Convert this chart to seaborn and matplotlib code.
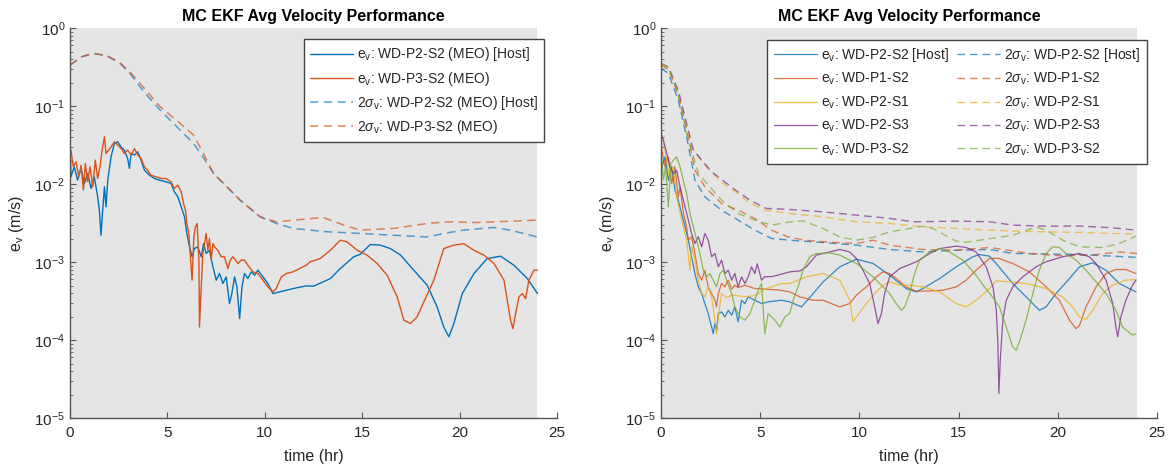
import numpy as np
import matplotlib
matplotlib.use("Agg")
import matplotlib.pyplot as plt
import seaborn as sns

# ---------------------------------------------------------------- data
# (time [hr], velocity error [m/s]) samples

# MEO pair: WD-P2-S2 (host) and WD-P3-S2
EV_P2S2_MEO = [
    (0.00, 0.0301), (0.05, 0.0124), (0.22, 0.0167), (0.39, 0.01125), (0.57, 0.0159),
    (0.74, 0.0102), (0.91, 0.0137), (1.08, 0.0088), (1.25, 0.0124), (1.42, 0.00688),
    (1.51, 0.00464), (1.59, 0.00221), (1.68, 0.00464), (1.77, 0.00924), (1.85, 0.00512),
    (1.94, 0.01125), (2.11, 0.0224), (2.28, 0.0333), (2.45, 0.0349), (2.62, 0.0301),
    (2.79, 0.0273), (2.96, 0.0214), (3.05, 0.0159), (3.14, 0.0248), (3.31, 0.0236),
    (3.48, 0.026), (3.65, 0.0203), (3.82, 0.0151), (4.08, 0.0130), (4.34, 0.0118),
    (4.59, 0.01125), (4.94, 0.0107), (5.19, 0.0102), (5.36, 0.00797), (5.54, 0.00688),
    (5.71, 0.00512), (5.88, 0.00381), (6.00, 0.00233), (6.14, 0.00157), (6.27, 0.00117),
    (6.39, 0.00149), (6.56, 0.00157), (6.74, 0.00117), (6.86, 0.00173), (6.99, 0.00129),
    (7.16, 0.00142), (7.34, 0.000869), (7.51, 0.000586), (7.68, 0.000713), (7.85, 0.000531),
    (8.02, 0.000646), (8.19, 0.000294), (8.31, 0.000395), (8.45, 0.000646), (8.57, 0.000481),
    (8.71, 0.000189), (8.83, 0.000481), (8.96, 0.000713), (9.13, 0.000615), (9.31, 0.00075),
    (9.48, 0.000679), (9.65, 0.000787), (9.91, 0.000646), (10.16, 0.000531), (10.42, 0.000395),
    (10.76, 0.000415), (11.11, 0.000436), (11.62, 0.000467), (12.13, 0.000495), (12.51, 0.000491),
    (13.37, 0.000615), (13.88, 0.000826), (14.57, 0.00117), (14.91, 0.00126), (15.42, 0.00168),
    (15.94, 0.00165), (16.45, 0.00149), (16.97, 0.00123), (17.65, 0.000787), (18.34, 0.000505),
    (18.85, 0.000266), (19.19, 0.000147), (19.45, 0.00011), (19.71, 0.000163), (20.14, 0.000395),
    (20.74, 0.000713), (21.42, 0.00111), (22.11, 0.00119), (22.79, 0.000912), (23.48, 0.000615),
    (24.00, 0.000395),
]
EV_P3S2_MEO = [
    (0.00, 0.024), (0.05, 0.0273), (0.17, 0.0167), (0.31, 0.0193), (0.45, 0.0124),
    (0.57, 0.0175), (0.69, 0.00838), (0.79, 0.0184), (0.91, 0.0107), (1.03, 0.0167),
    (1.17, 0.00924), (1.30, 0.0203), (1.42, 0.0118), (1.54, 0.0167), (1.65, 0.0273),
    (1.77, 0.0405), (1.85, 0.0248), (1.99, 0.0273), (2.11, 0.0301), (2.28, 0.0349),
    (2.45, 0.0317), (2.62, 0.0287), (2.79, 0.0248), (2.96, 0.0273), (3.14, 0.0236),
    (3.31, 0.0287), (3.48, 0.0236), (3.65, 0.0214), (3.82, 0.0167), (3.99, 0.0151),
    (4.16, 0.0130), (4.42, 0.0124), (4.68, 0.0118), (4.94, 0.0118), (5.19, 0.0107),
    (5.36, 0.0088), (5.54, 0.0097), (5.71, 0.00797), (5.83, 0.00565), (5.93, 0.00464),
    (6.00, 0.00313), (6.10, 0.00233), (6.17, 0.00129), (6.27, 0.000586), (6.36, 0.00211),
    (6.44, 0.00283), (6.53, 0.00313), (6.62, 0.00106), (6.65, 0.000147), (6.74, 0.000481),
    (6.82, 0.00129), (6.91, 0.00173), (6.99, 0.00233), (7.08, 0.00142), (7.16, 0.00201),
    (7.25, 0.00106), (7.34, 0.00173), (7.42, 0.00157), (7.59, 0.00142), (7.76, 0.00117),
    (7.93, 0.00117), (8.11, 0.000826), (8.23, 0.00106), (8.36, 0.00117), (8.50, 0.00106),
    (8.62, 0.000959), (8.79, 0.00106), (8.96, 0.00106), (9.13, 0.000912), (9.39, 0.00075),
    (9.65, 0.000713), (9.91, 0.000586), (10.16, 0.000481), (10.42, 0.000415), (10.59, 0.000458),
    (10.85, 0.000646), (11.11, 0.000713), (11.45, 0.00075), (11.79, 0.000826), (12.13, 0.000912),
    (12.34, 0.00101), (12.85, 0.00111), (13.37, 0.00142), (13.88, 0.00191), (14.22, 0.00182),
    (14.74, 0.00142), (15.25, 0.00123), (15.77, 0.000959), (16.28, 0.000679), (16.80, 0.000358),
    (17.14, 0.00018), (17.48, 0.000163), (17.82, 0.000198), (18.17, 0.000309), (18.68, 0.000586),
    (19.19, 0.00149), (19.71, 0.00165), (20.22, 0.00172), (20.74, 0.00142), (21.25, 0.00123),
    (21.77, 0.000959), (22.28, 0.000586), (22.62, 0.00018), (22.74, 0.00014), (22.88, 0.000219),
    (23.05, 0.000358), (23.22, 0.000395), (23.39, 0.000341), (23.56, 0.000586), (23.82, 0.000787),
    (24.00, 0.000787),
]
SIG_P2S2_MEO = [
    (0.00, 0.337), (0.60, 0.43), (1.20, 0.476), (1.90, 0.44), (2.57, 0.354), (3.10, 0.26),
    (3.60, 0.177), (4.10, 0.125), (4.63, 0.089), (5.15, 0.066), (5.66, 0.0493), (6.34, 0.0333),
    (6.90, 0.021), (7.37, 0.0137), (8.06, 0.00923), (8.74, 0.00621), (9.77, 0.0038),
    (10.60, 0.00313), (11.48, 0.0027), (13.20, 0.00245), (14.90, 0.00233), (16.60, 0.00221),
    (18.34, 0.0021), (19.20, 0.00233), (20.20, 0.00257), (21.76, 0.00278), (22.60, 0.00257),
    (24.00, 0.0021),
]
SIG_P3S2_MEO = [
    (0.00, 0.337), (0.60, 0.43), (1.20, 0.476), (1.90, 0.445), (2.57, 0.36), (3.10, 0.27),
    (3.60, 0.196), (4.63, 0.0982), (5.66, 0.0601), (6.34, 0.0426), (6.85, 0.0248),
    (7.37, 0.0137), (8.06, 0.00923), (8.74, 0.00621), (9.77, 0.0038), (10.60, 0.00328),
    (11.48, 0.00345), (13.00, 0.00374), (14.05, 0.00298), (14.90, 0.00257), (16.60, 0.0027),
    (18.34, 0.00313), (19.36, 0.00328), (20.90, 0.00322), (24.00, 0.00345),
]

# Five-spacecraft case
EV_P2S2 = [
    (0.00, 0.0151), (0.20, 0.0224), (0.37, 0.01125), (0.54, 0.0167), (0.70, 0.00838),
    (0.87, 0.00623), (1.04, 0.0042), (1.21, 0.00283), (1.38, 0.00191), (1.54, 0.00117),
    (1.71, 0.000713), (1.88, 0.000481), (2.05, 0.000395), (2.21, 0.000294), (2.38, 0.000219),
    (2.55, 0.000147), (2.63, 0.000121), (2.72, 0.000163), (2.80, 0.000134), (2.89, 0.000219),
    (3.05, 0.00023), (3.22, 0.000198), (3.39, 0.000241), (3.56, 0.000208), (3.72, 0.000266),
    (3.89, 0.000171), (4.06, 0.000324), (4.23, 0.000294), (4.40, 0.000358), (4.73, 0.000324),
    (5.07, 0.000294), (5.40, 0.000309), (6.07, 0.000324), (6.49, 0.000309), (7.08, 0.000266),
    (7.67, 0.000395), (8.17, 0.000557), (9.01, 0.000869), (9.85, 0.00109), (10.69, 0.000959),
    (11.52, 0.000679), (12.36, 0.000458), (12.87, 0.000415), (13.20, 0.000458), (14.04, 0.000615),
    (14.88, 0.000869), (15.72, 0.00117), (16.05, 0.00125), (16.56, 0.00119), (16.89, 0.000959),
    (17.73, 0.000531), (18.57, 0.000324), (19.07, 0.000241), (19.41, 0.000266), (19.91, 0.000395),
    (20.59, 0.000615), (21.09, 0.000869), (21.76, 0.00098), (22.43, 0.000787), (23.10, 0.000531),
    (23.94, 0.000415),
]
EV_P1S2 = [
    (0.00, 0.0305), (0.20, 0.0167), (0.37, 0.0224), (0.54, 0.0102), (0.70, 0.0167),
    (0.87, 0.00687), (0.96, 0.00924), (1.13, 0.0042), (1.29, 0.00283), (1.38, 0.00191),
    (1.54, 0.00211), (1.71, 0.00129), (1.88, 0.000713), (2.05, 0.000586), (2.21, 0.000787),
    (2.38, 0.000481), (2.55, 0.000395), (2.72, 0.000324), (2.80, 0.000266), (2.89, 0.000395),
    (3.05, 0.000531), (3.22, 0.000481), (3.39, 0.000586), (3.56, 0.00045), (3.72, 0.000505),
    (3.89, 0.00047), (4.23, 0.000505), (4.73, 0.000458), (5.24, 0.00045), (5.90, 0.00044),
    (6.49, 0.000415), (7.00, 0.000358), (7.67, 0.000324), (8.17, 0.000324), (9.01, 0.000266),
    (9.51, 0.000294), (9.85, 0.000376), (10.35, 0.000481), (10.85, 0.000646), (11.19, 0.00075),
    (11.52, 0.000713), (11.86, 0.000615), (12.36, 0.000481), (12.87, 0.000423), (13.54, 0.000427),
    (14.21, 0.000436), (14.88, 0.000481), (15.38, 0.000586), (15.88, 0.000787), (16.56, 0.00111),
    (17.00, 0.00112), (17.73, 0.000959), (18.57, 0.00075), (19.41, 0.000481), (20.08, 0.000324),
    (20.59, 0.00018), (20.92, 0.00014), (21.09, 0.000153), (21.42, 0.000266), (21.93, 0.000481),
    (22.43, 0.000713), (22.93, 0.000803), (23.43, 0.000803), (23.94, 0.000713),
]
EV_P2S1 = [
    (0.00, 0.049), (0.20, 0.0273), (0.45, 0.01125), (0.62, 0.0167), (0.79, 0.00687),
    (1.04, 0.00345), (1.29, 0.00191), (1.46, 0.000787), (1.54, 0.00157), (1.71, 0.00106),
    (1.88, 0.000586), (2.05, 0.000395), (2.21, 0.000358), (2.38, 0.000481), (2.55, 0.000358),
    (2.72, 0.00018), (2.80, 0.000121), (2.89, 0.000198), (3.05, 0.000395), (3.30, 0.00035),
    (3.60, 0.00038), (4.20, 0.00036), (4.73, 0.00037), (5.23, 0.00045), (6.07, 0.00053),
    (6.49, 0.000531), (7.33, 0.000646), (8.17, 0.000713), (9.01, 0.000586), (9.51, 0.000324),
    (9.68, 0.000171), (9.85, 0.000198), (10.35, 0.000294), (10.85, 0.000415), (11.19, 0.000505),
    (11.52, 0.000557), (12.03, 0.000505), (12.53, 0.000505), (13.20, 0.000481), (14.04, 0.000415),
    (14.88, 0.000294), (15.38, 0.000266), (15.88, 0.000324), (16.56, 0.000458), (16.89, 0.000574),
    (17.73, 0.000557), (18.57, 0.00052), (19.41, 0.000458), (20.25, 0.000358), (20.75, 0.000266),
    (21.09, 0.000198), (21.42, 0.000183), (21.76, 0.000241), (22.26, 0.000395), (22.76, 0.000505),
    (23.43, 0.000586), (23.94, 0.000597),
]
EV_P2S3 = [
    (0.00, 0.045), (0.12, 0.0367), (0.29, 0.0248), (0.45, 0.0167), (0.62, 0.0137),
    (0.79, 0.015), (0.96, 0.00924), (1.21, 0.00512), (1.38, 0.00345), (1.54, 0.00233),
    (1.71, 0.00173), (1.88, 0.00211), (2.05, 0.00157), (2.21, 0.00233), (2.38, 0.00191),
    (2.55, 0.00117), (2.72, 0.00129), (2.89, 0.000869), (3.05, 0.00106), (3.22, 0.000713),
    (3.39, 0.000787), (3.56, 0.000586), (3.72, 0.000713), (3.89, 0.000481), (4.06, 0.000646),
    (4.23, 0.000531), (4.40, 0.00065), (4.56, 0.000869), (4.73, 0.000713), (4.85, 0.00095),
    (5.07, 0.000586), (5.23, 0.00065), (5.57, 0.00065), (6.07, 0.0007), (6.49, 0.00075),
    (7.00, 0.00077), (7.33, 0.000869), (7.83, 0.00123), (8.51, 0.00135), (9.01, 0.00145),
    (9.51, 0.00135), (9.85, 0.00111), (10.18, 0.000787), (10.52, 0.000531), (10.77, 0.000266),
    (10.94, 0.000163), (11.11, 0.000219), (11.27, 0.000395), (11.52, 0.000646), (12.03, 0.000826),
    (12.87, 0.00101), (13.54, 0.00129), (14.04, 0.00149), (14.88, 0.0016), (15.38, 0.00154),
    (15.88, 0.00135), (16.05, 0.00117), (16.39, 0.000869), (16.73, 0.000481), (16.90, 0.000241),
    (16.98, 9.0e-5), (17.03, 2.05e-5), (17.10, 5.5e-5), (17.23, 0.00018), (17.40, 0.000324),
    (17.73, 0.000481), (18.23, 0.000646), (18.90, 0.000869), (19.41, 0.00101), (20.25, 0.00117),
    (21.09, 0.00129), (21.59, 0.00117), (21.93, 0.000959), (22.43, 0.000586), (22.77, 0.000294),
    (22.93, 0.000147), (23.02, 0.00011), (23.18, 0.000198), (23.43, 0.000324), (23.76, 0.000505),
    (23.94, 0.000586),
]
EV_P3S2 = [
    (0.00, 0.0273), (0.12, 0.01125), (0.23, 0.0167), (0.37, 0.00512), (0.50, 0.0184),
    (0.62, 0.0203), (0.79, 0.0224), (0.96, 0.0167), (1.12, 0.01125), (1.29, 0.0076),
    (1.46, 0.0042), (1.63, 0.00283), (1.80, 0.00191), (1.96, 0.00129), (2.13, 0.000787),
    (2.30, 0.000646), (2.47, 0.000713), (2.63, 0.000586), (2.80, 0.000481), (2.97, 0.000713),
    (3.14, 0.000787), (3.30, 0.000586), (3.56, 0.000395), (3.72, 0.000266), (3.98, 0.000198),
    (4.23, 0.00018), (4.48, 0.000219), (4.73, 0.000324), (4.90, 0.000436), (5.07, 0.000531),
    (5.23, 0.000121), (5.40, 0.000219), (5.74, 0.00018), (5.99, 0.000147), (6.24, 0.000198),
    (6.49, 0.000219), (6.66, 0.000324), (6.91, 0.000481), (7.16, 0.000787), (7.50, 0.00117),
    (7.83, 0.00129), (8.51, 0.00131), (9.01, 0.00123), (9.85, 0.000959), (10.69, 0.000646),
    (11.19, 0.000481), (11.52, 0.000395), (11.86, 0.000294), (12.11, 0.000241), (12.28, 0.000266),
    (12.53, 0.000395), (12.78, 0.000713), (13.04, 0.00106), (13.54, 0.00135), (14.04, 0.00149),
    (14.54, 0.00135), (15.21, 0.00106), (15.88, 0.00068), (16.30, 0.000481), (16.70, 0.00036),
    (17.06, 0.000266), (17.40, 0.000147), (17.73, 8.2e-5), (17.90, 7.4e-5), (18.07, 9.5e-5),
    (18.40, 0.00018), (18.74, 0.000395), (19.07, 0.000787), (19.41, 0.00129), (19.74, 0.00157),
    (20.08, 0.00154), (20.41, 0.00129), (20.92, 0.00106), (21.42, 0.000787), (21.93, 0.000557),
    (22.43, 0.000395), (22.93, 0.000241), (23.26, 0.000147), (23.76, 0.000116), (23.94, 0.000121),
]
SIG_P2S2 = [
    (0.00, 0.305), (0.37, 0.264), (0.87, 0.12), (1.29, 0.0405), (1.71, 0.01125), (2.21, 0.00687),
    (3.05, 0.00464), (3.89, 0.00345), (4.73, 0.00257), (5.57, 0.00201), (6.49, 0.00191),
    (8.17, 0.00178), (9.85, 0.00165), (11.52, 0.00145), (13.20, 0.00135), (14.88, 0.00142),
    (16.56, 0.00145), (17.73, 0.00129), (19.40, 0.00127), (21.09, 0.00125), (22.50, 0.0012),
    (24.00, 0.00115),
]
SIG_P1S2 = [
    (0.00, 0.33), (0.37, 0.30), (0.87, 0.14), (1.29, 0.05), (1.71, 0.0151), (2.21, 0.00923),
    (3.05, 0.00565), (3.89, 0.00464), (4.73, 0.00362), (5.57, 0.00257), (6.41, 0.0021),
    (7.25, 0.00191), (8.50, 0.0018), (9.85, 0.00173), (10.69, 0.00191), (11.52, 0.00165),
    (13.20, 0.00145), (14.88, 0.00142), (16.56, 0.00154), (18.57, 0.00129), (20.25, 0.0012),
    (21.93, 0.00125), (23.10, 0.00135), (24.00, 0.00129),
]
SIG_P2S1 = [
    (0.00, 0.34), (0.37, 0.31), (0.87, 0.15), (1.29, 0.055), (1.54, 0.03), (2.13, 0.0184),
    (3.05, 0.0105), (3.64, 0.0084), (4.48, 0.0057), (5.32, 0.0046), (6.49, 0.0042),
    (8.17, 0.0038), (9.85, 0.00329), (11.52, 0.00313), (13.20, 0.00283), (14.88, 0.0027),
    (16.56, 0.00257), (17.73, 0.0025), (19.40, 0.00244), (21.09, 0.0024), (23.94, 0.00228),
]
SIG_P2S3 = [
    (0.00, 0.35), (0.37, 0.32), (0.87, 0.16), (1.29, 0.06), (1.63, 0.0273), (2.55, 0.0144),
    (3.64, 0.0088), (4.48, 0.00623), (5.32, 0.00488), (6.49, 0.00473), (8.17, 0.00441),
    (9.85, 0.0040), (11.52, 0.00364), (12.70, 0.00329), (14.88, 0.00335), (16.56, 0.00329),
    (17.73, 0.00298), (19.41, 0.00289), (21.09, 0.0029), (22.76, 0.00275), (23.94, 0.00257),
]
SIG_P3S2 = [
    (0.00, 0.36), (0.37, 0.31), (0.87, 0.14), (1.29, 0.045), (1.88, 0.0137), (3.05, 0.00623),
    (3.89, 0.0042), (4.73, 0.00345), (5.57, 0.00298), (6.49, 0.00328), (7.16, 0.00338),
    (8.17, 0.0027), (9.01, 0.0021), (9.85, 0.00191), (10.69, 0.00207), (11.52, 0.00244),
    (13.20, 0.00289), (13.70, 0.0027), (14.88, 0.00185), (15.40, 0.0018), (16.05, 0.00191),
    (17.73, 0.00221), (18.90, 0.00283), (19.40, 0.00257), (20.25, 0.00191), (21.09, 0.00157),
    (22.26, 0.00154), (23.10, 0.00173), (23.94, 0.00215),
]

LEFT_NAMES = ["WD-P2-S2 (MEO) [Host]", "WD-P3-S2 (MEO)"]
RIGHT_NAMES = ["WD-P2-S2 [Host]", "WD-P1-S2", "WD-P2-S1", "WD-P2-S3", "WD-P3-S2"]
X_TICKS = [0, 5, 10, 15, 20, 25]
TITLE = "MC EKF Avg Velocity Performance"

# ---------------------------------------------------------------- style
sns.set_style("ticks")
plt.rcParams["font.family"] = ["Liberation Sans", "DejaVu Sans"]
plt.rcParams["mathtext.fontset"] = "custom"
plt.rcParams["mathtext.rm"] = "Liberation Sans"
plt.rcParams["mathtext.it"] = "Liberation Sans:italic"
plt.rcParams["mathtext.bf"] = "Liberation Sans:bold"

C_BLUE, C_ORANGE, C_YELLOW, C_PURPLE, C_GREEN = (
    "#0072BD", "#D95319", "#EDB120", "#7E2F8E", "#77AC30")
AXIS_COLOR = "#555555"
TEXT_COLOR = "#262626"
SHADE = "#e5e5e5"
DASH = (0, (5.5, 3.5))

fig = plt.figure(figsize=(11.72, 4.70), dpi=100)
ax_l = fig.add_axes([0.0597, 0.1106, 0.4155, 0.8294])
ax_r = fig.add_axes([0.5640, 0.1106, 0.4232, 0.8294])


def draw(ax, series, color, label, dashed=False, lw=1.0, alpha=1.0):
    arr = np.asarray(series, dtype=float)
    kws = dict(x=arr[:, 0], y=arr[:, 1], ax=ax, color=color, lw=lw, alpha=alpha,
               estimator=None, label=label, legend=False)
    if dashed:
        kws["linestyle"] = DASH
    sns.lineplot(**kws)
    return ax.lines[-1]


def dress(ax):
    ax.set_yscale("log")
    ax.set_xlim(0, 25)
    ax.set_ylim(1e-5, 1)
    ax.axvspan(0, 24, color=SHADE, lw=0, zorder=0)
    ax.set_xticks(X_TICKS)
    ax.set_xticklabels([str(v) for v in X_TICKS])
    for side in ("top", "right"):
        ax.spines[side].set_visible(False)
    for side in ("left", "bottom"):
        ax.spines[side].set_color(AXIS_COLOR)
        ax.spines[side].set_linewidth(1.0)
    ax.tick_params(which="both", direction="in", color=AXIS_COLOR, labelcolor=TEXT_COLOR,
                   labelsize=11)
    ax.tick_params(which="major", length=4.5, width=0.8)
    ax.tick_params(which="minor", length=2.5, width=0.6)
    ax.tick_params(axis="x", which="minor", bottom=False)
    ax.tick_params(axis="x", which="major", pad=6)
    ax.set_xlabel("time (hr)", fontsize=11.5, color=TEXT_COLOR, labelpad=6)
    ax.set_ylabel(r"e$_\mathrm{v}$ (m/s)", fontsize=11.5, color=TEXT_COLOR, labelpad=6)
    ax.set_title(TITLE, fontsize=11.5, fontweight="bold", color="black", pad=5)


for ax in (ax_l, ax_r):
    dress(ax)

# left panel
h = []
h.append(draw(ax_l, EV_P2S2_MEO, C_BLUE, r"e$_\mathrm{v}$: " + LEFT_NAMES[0], lw=1.0))
h.append(draw(ax_l, EV_P3S2_MEO, C_ORANGE, r"e$_\mathrm{v}$: " + LEFT_NAMES[1], lw=1.0))
h.append(draw(ax_l, SIG_P2S2_MEO, C_BLUE, r"2$\sigma_\mathrm{v}$: " + LEFT_NAMES[0],
              dashed=True, lw=1.1, alpha=0.65))
h.append(draw(ax_l, SIG_P3S2_MEO, C_ORANGE, r"2$\sigma_\mathrm{v}$: " + LEFT_NAMES[1],
              dashed=True, lw=1.1, alpha=0.7))
leg = ax_l.legend(handles=h, labels=[x.get_label() for x in h], loc="upper right",
                  bbox_to_anchor=(0.974, 0.972), borderaxespad=0, fontsize=10,
                  frameon=True, fancybox=False, framealpha=1, edgecolor="#444444",
                  handlelength=3.1, handletextpad=0.3, labelspacing=0.45, borderpad=0.45)
leg.get_frame().set_linewidth(1.0)

# right panel
colors = [C_BLUE, C_ORANGE, C_YELLOW, C_PURPLE, C_GREEN]
ev_sets = [EV_P2S2, EV_P1S2, EV_P2S1, EV_P2S3, EV_P3S2]
sig_sets = [SIG_P2S2, SIG_P1S2, SIG_P2S1, SIG_P2S3, SIG_P3S2]
h_ev, h_sig = [], []
for name, c, ev, sig in zip(RIGHT_NAMES, colors, ev_sets, sig_sets):
    h_ev.append(draw(ax_r, ev, c, r"e$_\mathrm{v}$: " + name, lw=0.9, alpha=0.8))
    h_sig.append(draw(ax_r, sig, c, r"2$\sigma_\mathrm{v}$: " + name, dashed=True,
                      lw=1.0, alpha=0.7))
hr = h_ev + h_sig
leg = ax_r.legend(handles=hr, labels=[x.get_label() for x in hr], loc="upper right",
                  ncol=2, bbox_to_anchor=(0.980, 0.970), borderaxespad=0, fontsize=10,
                  frameon=True, fancybox=False, framealpha=1, edgecolor="#444444",
                  handlelength=3.1, handletextpad=0.3, labelspacing=0.5, borderpad=0.45,
                  columnspacing=0.6)
leg.get_frame().set_linewidth(1.0)

fig.savefig("out.png", dpi=100, facecolor="white")
